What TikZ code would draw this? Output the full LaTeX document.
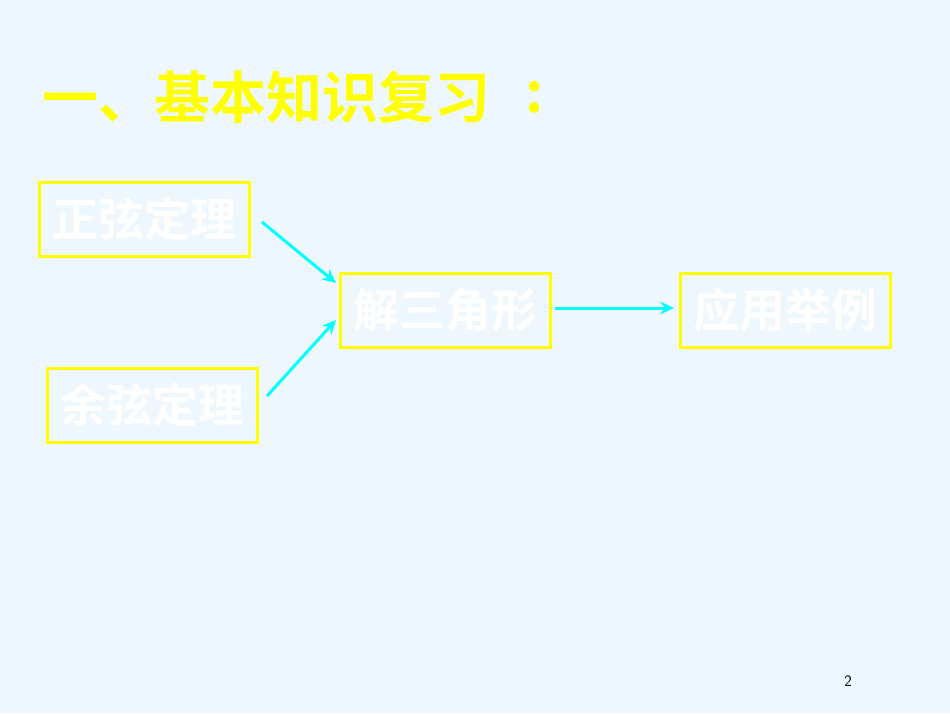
\documentclass[tikz,border=0pt]{standalone}
\usepackage{fontspec}
\newfontfamily\cjkb{Noto Sans CJK SC Bold}
\usetikzlibrary{arrows.meta}
\definecolor{bg}{HTML}{EEF7FD}
\definecolor{yel}{HTML}{FFFF00}
\definecolor{cy}{HTML}{00FFFF}
\begin{document}
\begin{tikzpicture}[x=1pt,y=-1pt,
  box/.style={draw=yel,line width=3pt,minimum width=210pt,minimum height=74pt,text=white,font=\cjkb\fontsize{46}{46}\selectfont,inner sep=0pt},
  arr/.style={draw=cy,line width=3pt,-{Stealth[length=14pt,width=13pt,inset=5pt]}}]
\fill[bg] (0,0) rectangle (950,713);
\node[anchor=west,text=yel,font=\cjkb\fontsize{56}{56}\selectfont,inner sep=0pt] (t) at (42,97) {一、基本知识复习};
\node[text=yel,font=\cjkb\fontsize{56}{56}\selectfont,inner sep=0pt] (tc) at (535,97) {:};
\node[box] (a) at (144,219) {正弦定理};
\node[box] (b) at (152,405) {余弦定理};
\node[box] (c) at (445,310) {解三角形};
\node[box] (d) at (785,310) {应用举例};
\coordinate (a1) at (262,222);
\coordinate (c1) at (336,283);
\coordinate (b1) at (267,396);
\coordinate (c2) at (336,320);
\coordinate (c3) at (555,308);
\coordinate (d1) at (674,308);
\draw[arr] (a1) -- (c1);
\draw[arr] (b1) -- (c2);
\draw[arr] (c3) -- (d1);
\node[font=\sffamily\fontsize{16}{16}\selectfont] (p) at (848,681) {2};
\end{tikzpicture}
\end{document}
